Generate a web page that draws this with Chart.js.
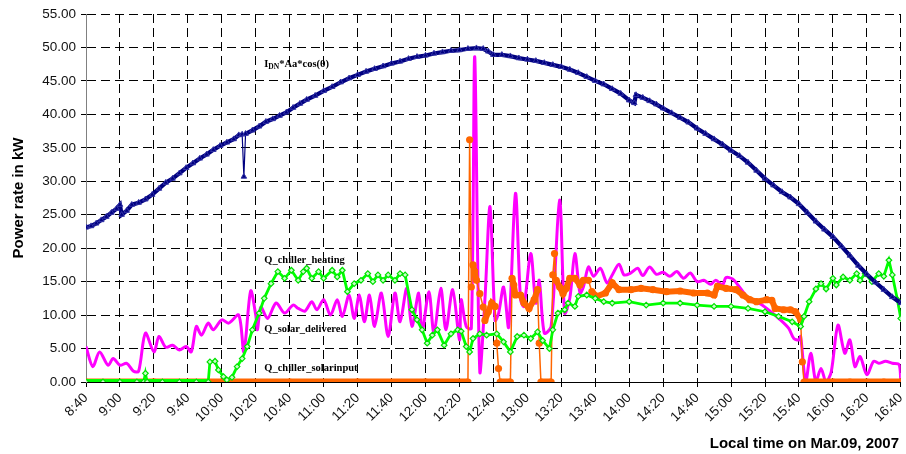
<!DOCTYPE html>
<html>
<head>
<meta charset="utf-8">
<script src="https://cdn.jsdelivr.net/npm/chart.js@4.4.1/dist/chart.umd.min.js"></script>
<style>
  html, body { margin: 0; padding: 0; background: #fff; }
  #wrap { width: 906px; height: 454px; }
</style>
</head>
<body>
<div id="wrap"><canvas id="chart"></canvas></div>
<script>
// I_DN*Aa*cos(theta)
const idnTimes = ['8:40','8:43','8:46','8:49','8:52','8:55','8:58','9:00','9:01','9:04','9:07','9:11','9:15','9:19','9:23','9:27','9:31','9:35','9:39','9:43','9:47','9:51','9:55','9:59','10:03','10:07','10:10','10:12','10:13','10:14','10:18','10:22','10:26','10:30','10:34','10:38','10:42','10:46','10:50','10:55','11:00','11:05','11:10','11:15','11:20','11:25','11:30','11:35','11:40','11:45','11:50','11:55','12:00','12:05','12:10','12:15','12:20','12:25','12:30','12:34','12:37','12:40','12:45','12:50','12:55','13:00','13:05','13:10','13:15','13:20','13:25','13:30','13:35','13:40','13:45','13:50','13:55','14:00','14:03','14:04','14:08','14:12','14:16','14:20','14:25','14:30','14:35','14:40','14:45','14:50','14:55','15:00','15:05','15:10','15:15','15:20','15:25','15:30','15:35','15:40','15:45','15:50','15:55','16:00','16:05','16:10','16:15','16:20','16:25','16:30','16:35','16:40'];
const idnValues = [23.1,23.3,23.7,24.2,24.7,25.3,25.9,26.5,25.0,25.6,26.5,26.8,27.3,28.0,28.9,29.8,30.4,31.2,32.0,32.7,33.4,34.0,34.7,35.3,35.8,36.3,36.9,37.0,30.7,37.1,37.6,38.2,38.9,39.3,39.8,40.3,41.0,41.6,42.2,42.8,43.5,44.1,44.8,45.4,45.9,46.4,46.8,47.2,47.6,47.9,48.3,48.6,48.8,49.1,49.3,49.5,49.6,49.8,49.9,49.8,49.4,48.9,48.9,48.7,48.4,48.2,48.0,47.7,47.4,47.1,46.7,46.2,45.6,45.0,44.5,43.8,43.1,42.1,41.7,42.9,42.5,42.0,41.5,40.9,40.2,39.5,38.8,37.9,37.1,36.3,35.5,34.6,33.8,32.8,31.6,30.4,29.4,28.4,27.6,26.6,25.3,24.0,22.8,21.7,20.3,18.9,17.4,16.1,14.9,13.8,12.7,11.8];

// Q_chiller_heating
const heatTimes = ['8:40','8:50','9:00','9:10','9:14','9:15','9:16','9:25','9:35','9:45','9:52','9:53','9:56','9:58','10:01','10:03','10:06','10:09','10:12','10:15','10:18','10:22','10:25','10:29','10:33','10:37','10:41','10:45','10:48','10:50','10:53','10:57','11:00','11:05','11:08','11:11','11:14','11:18','11:22','11:26','11:29','11:32','11:35','11:38','11:42','11:45','11:48','11:52','11:55','11:58','12:01','12:04','12:07','12:11','12:15','12:19','12:21','12:24','12:26','12:28','12:32','12:36','12:42','12:46','12:50','12:54','12:58','13:02','13:06','13:09','13:13','13:15','13:18','13:22','13:24','13:28','13:30','13:35','13:40','13:45','13:50','14:00','14:10','14:20','14:30','14:40','14:50','15:00','15:10','15:20','15:28','15:36','15:41','15:43','15:46','15:50','15:53','15:56','16:00','16:02','16:06','16:10','16:14','16:16','16:19','16:23','16:27','16:30','16:33','16:35','16:38','16:40'];
const heatValues = [0,0,0,0,0,1.3,0,0,0,0,0,3.0,3.1,1.8,0.8,0.3,0.7,2.3,3.5,5.3,7.8,10.3,12.5,14.7,16.5,15.5,16.7,15.2,16.5,17.0,15.5,16.5,15.5,16.7,15.7,16.7,13.5,14.7,15.2,16.2,15.0,16.0,15.2,16.0,15.2,16.2,16.0,10.8,9.3,7.8,5.8,7.0,7.8,5.5,7.2,7.8,7.6,5.3,4.5,6.5,7.2,7.0,7.2,6.0,4.5,6.8,7.0,6.5,7.5,6.2,5.0,7.8,10.3,10.8,11.8,11.3,12.8,13.0,12.5,12.0,11.8,12.0,11.5,11.8,11.8,11.5,11.3,11.3,11.0,10.5,9.8,9.0,8.3,9.8,12.0,13.9,14.7,13.9,15.5,14.5,15.7,15.2,16.2,15.2,16.2,15.0,16.2,15.8,18.2,16.0,12.3,9.5];

// Q_chiller_solarinput
const inputTimes = ['8:40','9:20','10:00','10:40','11:20','12:00','12:25','12:26','12:27','12:28','12:29','12:30','12:32','12:34','12:35','12:37','12:39','12:41','12:42','12:43','12:44','12:50','12:51','12:52','12:53','12:56','12:58','13:01','13:04','13:06','13:07','13:08','13:14','13:15','13:16','13:17','13:19','13:21','13:23','13:25','13:28','13:31','13:33','13:36','13:38','13:41','13:46','13:50','13:54','14:01','14:07','14:14','14:22','14:30','14:38','14:46','14:50','14:52','14:57','15:03','15:07','15:11','15:15','15:21','15:24','15:26','15:31','15:35','15:38','15:41','15:42','15:43','15:50','16:00','16:10','16:20','16:30','16:40'];
const inputValues = [0,0,0,0,0,0,0,36.2,14.2,17.5,16.5,15.2,13.2,11.2,9.2,10.5,11.8,11.3,5.8,2.0,0,0,15.5,14.5,13.0,13.0,11.8,11.0,12.3,13.8,5.8,0,0,16.0,19.2,15.2,14.2,13.2,14.0,15.5,15.5,14.5,15.2,15.2,13.5,12.8,13.3,14.8,13.8,13.8,14.0,13.8,13.5,13.6,13.3,13.3,13.0,14.3,14.0,13.8,13.0,12.3,12.0,12.3,12.2,11.0,10.8,10.8,10.5,9.3,3.0,0,0,0,0,0,0,0];

// Q_solar_delivered
const solarTimes = ['8:40','8:44','8:48','8:53','8:56','9:00','9:04','9:08','9:11','9:15','9:20','9:23','9:27','9:31','9:35','9:39','9:42','9:45','9:48','9:52','9:55','10:00','10:04','10:10','10:13','10:17','10:20','10:21','10:23','10:27','10:32','10:37','10:42','10:45','10:49','10:53','10:56','11:00','11:04','11:08','11:11','11:15','11:18','11:21','11:24','11:27','11:30','11:34','11:38','11:42','11:45','11:49','11:52','11:56','11:58','12:02','12:05','12:09','12:12','12:16','12:20','12:21','12:24','12:27','12:29','12:32','12:35','12:38','12:41','12:43','12:46','12:49','12:53','12:56','12:58','13:02','13:05','13:07','13:10','13:14','13:19','13:22','13:25','13:28','13:31','13:33','13:36','13:39','13:43','13:47','13:50','13:54','13:57','14:01','14:05','14:08','14:12','14:16','14:20','14:24','14:28','14:32','14:36','14:40','14:44','14:48','14:51','14:55','14:57','15:01','15:04','15:07','15:11','15:15','15:21','15:29','15:34','15:37','15:40','15:41','15:44','15:47','15:50','15:53','15:56','15:59','16:03','16:07','16:10','16:13','16:16','16:20','16:24','16:27','16:31','16:35','16:39','16:40'];
const solarValues = [5.3,2.3,4.5,2.5,3.5,2.5,2.8,1.6,1.6,7.3,4.5,6.8,5.2,5.5,4.8,5.3,4.5,8.3,7.0,8.8,7.8,9.3,8.8,10.0,4.5,13.6,10.0,7.8,11.2,9.5,11.8,10.3,11.5,11.0,10.6,12.0,10.8,12.3,10.0,12.3,9.8,13.0,9.5,13.0,9.0,13.0,8.3,13.3,6.8,13.3,9.0,14.0,8.3,13.3,7.5,13.5,7.3,14.0,7.8,13.8,6.3,12.3,8.3,8.0,48.6,1.5,12.3,26.2,9.2,10.2,14.2,8.2,28.2,12.3,11.3,19.2,11.8,15.2,7.3,8.3,27.2,10.3,12.5,19.2,13.3,14.2,17.2,15.8,17.0,14.8,16.0,17.6,16.0,16.3,17.0,15.9,17.2,16.1,16.4,15.8,16.5,15.5,16.3,15.0,15.2,14.6,15.2,14.5,15.6,15.4,14.5,13.5,12.3,12.0,11.0,9.3,8.0,6.5,6.3,6.8,0,4.3,0,2.0,0,1.5,8.5,4.3,6.3,2.3,3.8,1.1,3.1,2.8,3.1,2.8,2.6,0];

// axis
const xFirst = '8:40';
const xLast = '16:40';
const xStep = 20;
const yTicks = [0, 5, 10, 15, 20, 25, 30, 35, 40, 45, 50, 55];

// series names written inside the plot
const seriesLabels = ['I_DN*Aa*cos(θ)', 'Q_chiller_heating', 'Q_solar_delivered', 'Q_chiller_solarinput'];
const labelAt = [['10:25', 47.1], ['10:25', 17.8], ['10:25', 7.5], ['10:25', 1.7]];

const xTitle = 'Local time on Mar.09, 2007';
const yTitle = 'Power rate in kW';

function toMin(s) {
  const [h, m] = s.split(':').map(Number);
  return h * 60 + m;
}
function fmtTime(v) {
  return Math.floor(v / 60) + ':' + String(v % 60).padStart(2, '0');
}
function pairs(times, values) {
  return times.map((t, i) => ({ x: toMin(t), y: values[i] }));
}

const SANS = '"Liberation Sans", Arial, sans-serif';
const SERIF = '"Liberation Serif", "Times New Roman", serif';

// thick band where a series sits flat at zero
const zeroBand = (band, normal) => (ctx) =>
  (ctx.p0.parsed.y === 0 && ctx.p1.parsed.y === 0 ? band : normal);

const textPlugin = {
  id: 'inPlotText',
  afterDatasetsDraw(chart) {
    const { ctx, scales: { x, y } } = chart;
    ctx.save();
    ctx.fillStyle = '#000';
    ctx.textBaseline = 'alphabetic';
    ctx.textAlign = 'left';
    seriesLabels.forEach((txt, i) => {
      let px = x.getPixelForValue(toMin(labelAt[i][0]));
      const py = y.getPixelForValue(labelAt[i][1]);
      const sub = txt.match(/^I_DN(.*)$/);
      ctx.font = 'bold 10.5px ' + SERIF;
      if (sub) {
        ctx.fillText('I', px, py);
        px += ctx.measureText('I').width;
        ctx.font = 'bold 7.5px ' + SERIF;
        ctx.fillText('DN', px, py + 2.5);
        px += ctx.measureText('DN').width;
        ctx.font = 'bold 10.5px ' + SERIF;
        ctx.fillText(sub[1], px, py);
      } else {
        ctx.fillText(txt, px, py);
      }
    });
    ctx.restore();
  },
  afterDraw(chart) {
    const { ctx } = chart;
    ctx.save();
    ctx.fillStyle = '#000';
    ctx.font = 'bold 15px ' + SANS;
    ctx.textAlign = 'right';
    ctx.textBaseline = 'alphabetic';
    ctx.fillText(xTitle, 899, 448);
    ctx.restore();
  }
};

new Chart(document.getElementById('chart'), {
  type: 'line',
  data: {
    datasets: [
      {
        label: seriesLabels[0],
        data: pairs(idnTimes, idnValues),
        borderColor: '#000080',
        borderWidth: 4.2,
        pointStyle: 'triangle',
        pointRadius: 3.2,
        pointBackgroundColor: '#000080',
        pointBorderColor: '#3434a8',
        pointBorderWidth: 1,
        segment: {
          borderWidth: (ctx) => (Math.abs(ctx.p1.parsed.y - ctx.p0.parsed.y) > 4 ? 1.2 : 4.2)
        },
        order: 0
      },
      {
        label: seriesLabels[1],
        data: pairs(heatTimes, heatValues),
        borderColor: '#00ff00',
        borderWidth: 2.8,
        pointStyle: 'rectRot',
        pointRadius: 2.8,
        pointBackgroundColor: '#c8ffc8',
        pointBorderColor: '#00e000',
        pointBorderWidth: 1.2,
        segment: { borderWidth: zeroBand(6, 2.8) },
        order: 1
      },
      {
        label: seriesLabels[3],
        data: pairs(inputTimes, inputValues),
        borderColor: '#ff6600',
        borderWidth: 1.5,
        pointStyle: 'circle',
        pointRadius: 3.6,
        pointBackgroundColor: '#ff6600',
        pointBorderColor: '#ff6600',
        pointBorderWidth: 0,
        segment: {
          borderWidth: (ctx) => {
            const a = ctx.p0.parsed.y, b = ctx.p1.parsed.y;
            if (a === 0 && b === 0) return 7;
            if (Math.abs(a - b) < 1.6) return 6;
            return 1.5;
          }
        },
        order: 2
      },
      {
        label: seriesLabels[2],
        data: pairs(solarTimes, solarValues),
        borderColor: '#ff00ff',
        borderWidth: 3,
        tension: 0.3,
        pointRadius: 0,
        order: 3
      }
    ]
  },
  options: {
    responsive: true,
    maintainAspectRatio: false,
    animation: false,
    events: [],
    layout: { padding: { top: 14, left: 0, right: 0, bottom: 0 } },
    plugins: {
      legend: { display: false },
      tooltip: { enabled: false }
    },
    scales: {
      x: {
        type: 'linear',
        min: toMin(xFirst),
        max: toMin(xLast),
        afterFit: (s) => { s.height = 72; s.paddingLeft = 0; s.paddingRight = 0; },
        ticks: {
          stepSize: xStep,
          includeBounds: false,
          autoSkip: false,
          minRotation: 45,
          maxRotation: 45,
          padding: 3,
          color: '#111',
          font: { family: SANS, size: 13.5 },
          callback: (v) => fmtTime(v)
        },
        grid: {
          color: '#000',
          lineWidth: 1,
          tickLength: 5,
          tickColor: '#000',
          tickBorderDash: []
        },
        border: { display: true, color: '#000', width: 1, dash: [9, 5] }
      },
      y: {
        min: yTicks[0],
        max: yTicks[yTicks.length - 1],
        afterFit: (s) => { s.width = 86; },
        afterBuildTicks: (s) => { s.ticks = yTicks.map((v) => ({ value: v })); },
        ticks: {
          padding: 5,
          color: '#111',
          font: { family: SANS, size: 13.5 },
          callback: (v) => Number(v).toFixed(2)
        },
        grid: {
          color: '#000',
          lineWidth: 1,
          tickLength: 5,
          tickColor: '#000',
          tickBorderDash: []
        },
        border: { display: true, color: '#808080', width: 1, dash: [9, 5] },
        title: {
          display: true,
          text: yTitle,
          color: '#000',
          font: { family: SANS, size: 15, weight: 'bold' },
          padding: { top: 10, bottom: 0 }
        }
      }
    }
  },
  plugins: [textPlugin]
});
</script>
</body>
</html>
